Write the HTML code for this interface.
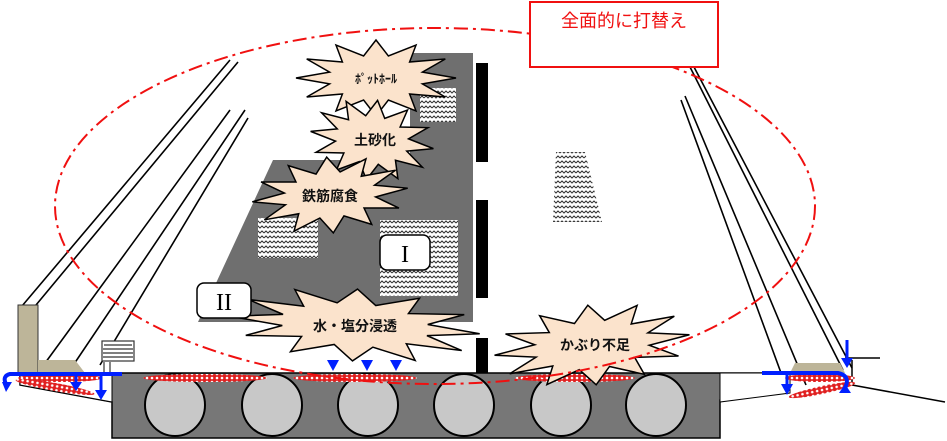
<!DOCTYPE html>
<html><head><meta charset="utf-8"><style>
html,body{margin:0;padding:0;background:#fff}
svg{display:block}
.s{font-family:"Liberation Sans","Noto Sans CJK JP",sans-serif}
.r{font-family:"Liberation Serif",serif}
</style></head><body>
<svg width="947" height="441" viewBox="0 0 947 441" xmlns="http://www.w3.org/2000/svg">
<defs>
<pattern id="zz" width="8" height="5" patternUnits="userSpaceOnUse">
<rect width="8" height="5" fill="#fff"/>
<path d="M0 3 L2 1 L4 3 L6 1 L8 3" stroke="#333" stroke-width="1" fill="none"/>
</pattern>
<pattern id="dots" width="5" height="4" patternUnits="userSpaceOnUse">
<rect width="5" height="4" fill="#e02020"/>
<circle cx="2" cy="2" r="1.3" fill="#fff"/>
</pattern>
<polygon id="burst" points="1,0 .58,.155 .866,.5 .42,.42 .5,.866 .155,.58 0,1 -.155,.58 -.5,.866 -.42,.42 -.866,.5 -.58,.155 -1,0 -.58,-.155 -.866,-.5 -.42,-.42 -.5,-.866 -.155,-.58 0,-1 .155,-.58 .5,-.866 .42,-.42 .866,-.5 .58,-.155" fill="#fbe3cc" stroke="#000" stroke-width="1.5" vector-effect="non-scaling-stroke"/>
</defs>

<polygon points="410,53 473,53 473,322 198,322 273,160 410,160" fill="#6f6f6f"/>
<rect x="420" y="88" width="36" height="34" fill="url(#zz)"/>
<rect x="258" y="218" width="60" height="40" fill="url(#zz)"/>
<rect x="380" y="220" width="78" height="76" fill="url(#zz)"/>
<polygon points="556,152 585,152 602,222 553,222" fill="url(#zz)"/>

<rect x="476" y="63" width="12" height="99" fill="#000"/>
<rect x="476" y="200" width="12" height="98" fill="#000"/>
<rect x="476" y="338" width="12" height="42" fill="#000"/>

<g stroke="#000" stroke-width="1.6" fill="none">
<line x1="230" y1="60" x2="22" y2="306"/>
<line x1="238" y1="62" x2="36" y2="305"/>
<line x1="230" y1="110" x2="40" y2="370"/>
<line x1="245" y1="110" x2="70" y2="370"/>
<line x1="248" y1="118" x2="100" y2="365"/>
<line x1="681" y1="100" x2="788" y2="392"/>
<line x1="685" y1="96" x2="806" y2="385"/>
<line x1="690" y1="67" x2="843" y2="370"/>
<line x1="694" y1="67" x2="852" y2="368"/>
</g>
<rect x="18" y="305" width="20" height="68" fill="#bdb599" stroke="#333" stroke-width="1"/>
<polygon points="38,360 75,360 85,373 38,373" fill="#bdb599"/>
<g stroke="#333" stroke-width="1.2"><rect x="102" y="341" width="32" height="20" fill="#fff"/>
<line x1="104" y1="345" x2="132" y2="345"/><line x1="103" y1="349" x2="133" y2="349"/><line x1="103" y1="353" x2="133" y2="353"/><line x1="103" y1="357" x2="133" y2="357"/>
<line x1="104" y1="362" x2="104" y2="375"/><line x1="110" y1="362" x2="110" y2="375"/></g>

<polygon points="112,373 763,373 787,376 787,393 720,400 720,438 112,438 112,402 20,385 20,373" fill="#777" stroke="#000" stroke-width="1.5"/>
<polygon points="20,373 112,373 112,402 20,385" fill="#fff" stroke="#000" stroke-width="1"/>
<polygon points="720,373 790,373 790,393 720,402" fill="#fff" stroke="#000" stroke-width="1"/>
<polygon points="795,363 840,363 845,373 790,373" fill="#bdb599"/>
<line x1="845" y1="358" x2="880" y2="358" stroke="#000" stroke-width="1.5"/>
<line x1="852" y1="385" x2="945" y2="402" stroke="#000" stroke-width="1.5"/>
<line x1="852" y1="360" x2="852" y2="385" stroke="#000" stroke-width="1.5"/>
<g fill="#c8c8c8" stroke="#000" stroke-width="2">
<ellipse cx="175" cy="405" rx="30" ry="31"/>
<ellipse cx="272" cy="405" rx="30" ry="31"/>
<ellipse cx="368" cy="405" rx="30" ry="31"/>
<ellipse cx="464" cy="405" rx="30" ry="31"/>
<ellipse cx="561" cy="405" rx="30" ry="31"/>
<ellipse cx="656" cy="405" rx="30" ry="31"/>
</g>
<g fill="url(#dots)">
<ellipse cx="205" cy="378" rx="62" ry="4"/>
<ellipse cx="355" cy="378" rx="62" ry="4"/>
<ellipse cx="575" cy="378" rx="60" ry="4"/>
<ellipse cx="60" cy="378" rx="42" ry="4"/>
<ellipse cx="55" cy="387" rx="40" ry="4" transform="rotate(10 55 387)"/>
<ellipse cx="820" cy="378" rx="35" ry="4"/>
<ellipse cx="822" cy="390" rx="34" ry="4" transform="rotate(-12 822 390)"/>
</g>

<g fill="#0020ff" stroke="#0020ff">
<path d="M122,374 H10 Q2,376 6,384" stroke-width="4" fill="none"/>
<polygon points="2,382 12,382 6,392" stroke="none"/>
<line x1="76" y1="374" x2="76" y2="383" stroke-width="3"/><polygon points="70,382 82,382 76,391" stroke="none"/>
<line x1="101" y1="374" x2="101" y2="392" stroke-width="3"/><polygon points="95,390 107,390 101,400" stroke="none"/>
<polygon points="327,360 339,360 333,371" stroke="none"/>
<polygon points="361,360 373,360 367,371" stroke="none"/>
<polygon points="390,360 402,360 396,371" stroke="none"/>
<path d="M762,373 H838 Q852,376 844,390" stroke-width="4" fill="none"/>
<line x1="787" y1="374" x2="787" y2="385" stroke-width="3"/><polygon points="781,384 793,384 787,395" stroke="none"/>
<line x1="847" y1="340" x2="847" y2="362" stroke-width="3"/><polygon points="841,358 853,358 847,368" stroke="none"/>
<polygon points="839,393 851,393 845,384" stroke="none"/>
</g>

<use href="#burst" transform="translate(376,78) scale(80,38)"/>
<use href="#burst" transform="translate(372,140) rotate(8) scale(62,40)"/>
<use href="#burst" transform="translate(330,195) rotate(-5) scale(78,38)"/>
<use href="#burst" transform="translate(355,325) rotate(4) scale(125,36)"/>
<use href="#burst" transform="translate(592,345) rotate(-6) scale(98,40)"/>
<g class="s" font-weight="bold" font-size="14" text-anchor="middle" fill="#111">
<text x="376" y="83" font-size="12">ﾎﾟｯﾄﾎｰﾙ</text>
<text x="375" y="145">土砂化</text>
<text x="330" y="201">鉄筋腐食</text>
<text x="355" y="331">水・塩分浸透</text>
<text x="595" y="350">かぶり不足</text>
</g>

<rect x="380" y="235" width="50" height="35" rx="7" fill="#fff" stroke="#000" stroke-width="1.5"/>
<text class="r" x="405" y="262" font-size="24" text-anchor="middle">I</text>
<rect x="197" y="283" width="54" height="35" rx="7" fill="#fff" stroke="#000" stroke-width="1.5"/>
<text class="r" x="224" y="310" font-size="24" text-anchor="middle">II</text>

<ellipse cx="435" cy="206" rx="380" ry="178" fill="none" stroke="#f01010" stroke-width="2" stroke-dasharray="14,5,3,5"/>

<rect x="530" y="2" width="188" height="65" fill="#fff" stroke="#f01010" stroke-width="2"/>
<text class="s" x="624" y="27" font-size="18" fill="#f01010" text-anchor="middle">全面的に打替え</text>
</svg>
</body></html>
